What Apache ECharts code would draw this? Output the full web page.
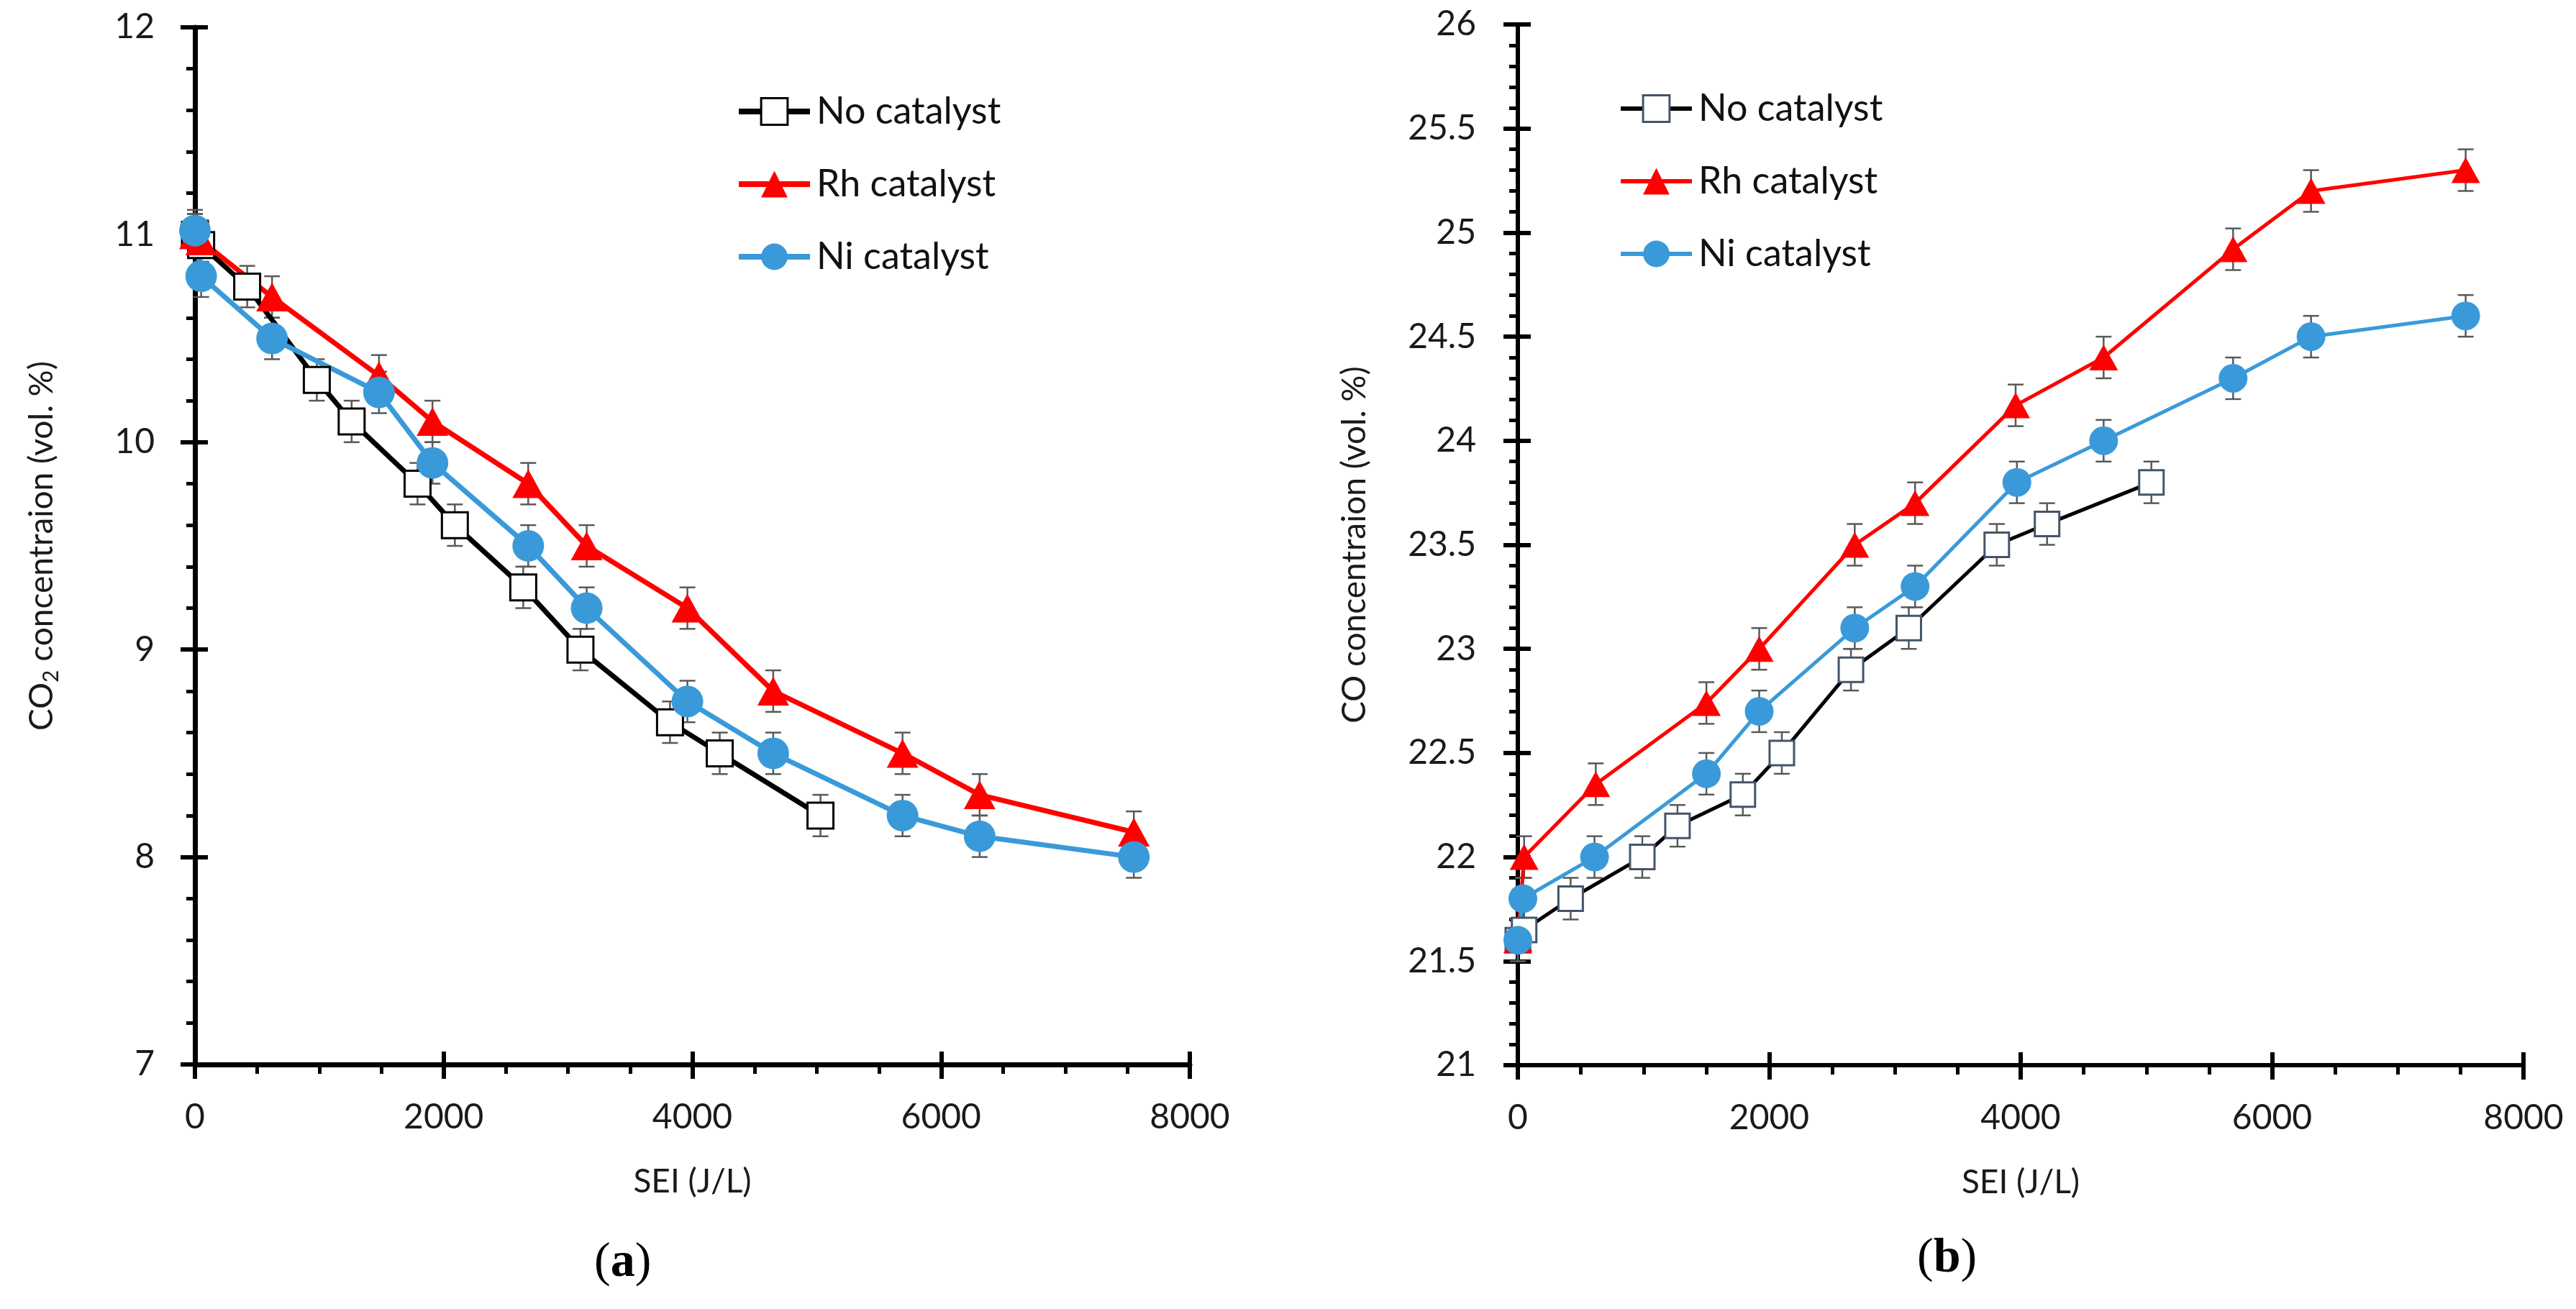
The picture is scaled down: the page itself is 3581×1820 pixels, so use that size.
<!DOCTYPE html>
<html>
<head>
<meta charset="utf-8">
<script src="https://cdn.jsdelivr.net/npm/echarts@6/dist/echarts.min.js"></script>
<style>
html,body{margin:0;padding:0;background:#fff;}
#chart{width:3581px;height:1820px;}
</style>
</head>
<body>
<div id="chart"></div>
<script>
// ---------- Data ----------
// (a) CO2 concentration vs SEI
const SEI_A_NONE = [0, 50, 420, 980, 1260, 1790, 2090, 2640, 3100, 3820, 4220, 5030];
const CO2_NONE   = [11.0, 10.95, 10.75, 10.3, 10.1, 9.8, 9.6, 9.3, 9.0, 8.65, 8.5, 8.2];
const SEI_A_RH   = [0, 50, 620, 1480, 1910, 2680, 3150, 3960, 4650, 5690, 6310, 7550];
const CO2_RH     = [11.0, 10.97, 10.7, 10.32, 10.1, 9.8, 9.5, 9.2, 8.8, 8.5, 8.3, 8.12];
const SEI_A_NI   = [0, 50, 620, 1480, 1910, 2680, 3150, 3960, 4650, 5690, 6310, 7550];
const CO2_NI     = [11.02, 10.8, 10.5, 10.24, 9.9, 9.5, 9.2, 8.75, 8.5, 8.2, 8.1, 8.0];
const ERR_A = 0.1;

// (b) CO concentration vs SEI
const SEI_B_NONE = [0, 50, 420, 990, 1270, 1790, 2100, 2650, 3110, 3810, 4210, 5040];
const CO_NONE    = [21.6, 21.65, 21.8, 22.0, 22.15, 22.3, 22.5, 22.9, 23.1, 23.5, 23.6, 23.8];
const SEI_B_RH   = [0, 50, 620, 1500, 1920, 2680, 3160, 3960, 4660, 5690, 6310, 7540];
const CO_RH      = [21.6, 22.0, 22.35, 22.74, 23.0, 23.5, 23.7, 24.17, 24.4, 24.92, 25.2, 25.3];
const SEI_B_NI   = [0, 40, 610, 1500, 1920, 2680, 3160, 3970, 4660, 5690, 6310, 7540];
const CO_NI      = [21.6, 21.8, 22.0, 22.4, 22.7, 23.1, 23.3, 23.8, 24.0, 24.3, 24.5, 24.6];
const ERR_B = 0.1;

const SERIES_NAMES = ['No catalyst', 'Rh catalyst', 'Ni catalyst'];
const X_MIN = 0, X_MAX = 8000, X_STEP = 2000;
const YA_MIN = 7, YA_MAX = 12, YA_STEP = 1;
const YB_MIN = 21, YB_MAX = 26, YB_STEP = 0.5;
const X_TITLE = 'SEI (J/L)';

// ---------- Helpers ----------
const FONT = 'Lato';
const BLACK = '#000000', RED = '#FF0000', BLUE = '#3A9AD9', SLATE = '#44546A', ERRC = '#595959';

function zip(xs, ys) { return xs.map((x, i) => [x, ys[i]]); }
function errData(xs, ys, e) { return xs.map((x, i) => [x, ys[i] - e, ys[i] + e]); }
function plain(v) { return String(v); }

function errorSeries(xs, ys, e, xi, yi) {
  return {
    type: 'custom', xAxisIndex: xi, yAxisIndex: yi, z: 1, silent: true,
    data: errData(xs, ys, e),
    encode: { x: 0, y: [1, 2] },
    renderItem: function (params, api) {
      const x = api.value(0);
      const lo = api.coord([x, api.value(1)]);
      const hi = api.coord([x, api.value(2)]);
      const w = 11;
      const st = { stroke: ERRC, lineWidth: 2.5 };
      return { type: 'group', children: [
        { type: 'line', shape: { x1: lo[0], y1: lo[1], x2: hi[0], y2: hi[1] }, style: st },
        { type: 'line', shape: { x1: lo[0] - w, y1: lo[1], x2: lo[0] + w, y2: lo[1] }, style: st },
        { type: 'line', shape: { x1: hi[0] - w, y1: hi[1], x2: hi[0] + w, y2: hi[1] }, style: st }
      ]};
    }
  };
}

function lineSeries(name, xs, ys, xi, yi, kind, sqBorder, lw, big) {
  const s = { name: name, type: 'line', xAxisIndex: xi, yAxisIndex: yi, data: zip(xs, ys), z: 3, showSymbol: true };
  if (kind === 'none') {
    s.symbol = 'rect'; s.symbolSize = big ? 36 : 34;
    s.itemStyle = { color: '#ffffff', borderColor: sqBorder, borderWidth: 3 };
    s.lineStyle = { color: BLACK, width: lw };
  } else if (kind === 'rh') {
    s.symbol = 'triangle'; s.symbolSize = big ? [44, 40] : [40, 36];
    s.itemStyle = { color: RED };
    s.lineStyle = { color: RED, width: lw };
  } else {
    s.symbol = 'circle'; s.symbolSize = big ? 44 : 40;
    s.itemStyle = { color: BLUE };
    s.lineStyle = { color: BLUE, width: lw };
  }
  return s;
}

function mainX(gi, lw) {
  return {
    type: 'value', gridIndex: gi, position: 'bottom', min: X_MIN, max: X_MAX, interval: X_STEP,
    axisLine: { show: true, onZero: false, lineStyle: { color: BLACK, width: lw } },
    axisTick: { show: true, inside: false, length: 20, lineStyle: { color: BLACK, width: 6 } },
    minorTick: { show: true, splitNumber: 4, length: 13, lineStyle: { color: BLACK, width: 5 } },
    splitLine: { show: false }, minorSplitLine: { show: false },
    axisLabel: { show: true, margin: 50, fontFamily: FONT, fontSize: 48, color: '#1a1a1a', formatter: plain },
    name: X_TITLE, nameLocation: 'middle', nameGap: 140,
    nameTextStyle: { fontFamily: FONT, fontSize: 46, color: '#1a1a1a' }
  };
}
function overX(gi) {
  return {
    type: 'value', gridIndex: gi, position: 'bottom', min: X_MIN, max: X_MAX, interval: X_STEP,
    axisLine: { show: false, onZero: false },
    axisTick: { show: true, inside: true, length: 18, lineStyle: { color: BLACK, width: 6 } },
    splitLine: { show: false }, axisLabel: { show: false }
  };
}
function mainY(gi, min, max, step, minorN, lw, name, gap, margin) {
  return {
    type: 'value', gridIndex: gi, position: 'left', min: min, max: max, interval: step,
    axisLine: { show: true, onZero: false, lineStyle: { color: BLACK, width: lw } },
    axisTick: { show: true, inside: false, length: 20, lineStyle: { color: BLACK, width: 6 } },
    minorTick: { show: true, splitNumber: minorN, length: 12, lineStyle: { color: BLACK, width: 5 } },
    splitLine: { show: false }, minorSplitLine: { show: false },
    axisLabel: { show: true, margin: margin, fontFamily: FONT, fontSize: 48, color: '#1a1a1a', formatter: plain },
    name: name, nameLocation: 'middle', nameGap: gap, nameRotate: 90,
    nameTextStyle: {
      fontFamily: FONT, fontSize: 46, color: '#1a1a1a', lineHeight: 56,
      rich: { sub: { fontFamily: FONT, fontSize: 30, color: '#1a1a1a', verticalAlign: 'bottom', lineHeight: 36 } }
    }
  };
}
function overY(gi, min, max, step) {
  return {
    type: 'value', gridIndex: gi, position: 'left', min: min, max: max, interval: step,
    axisLine: { show: false, onZero: false },
    axisTick: { show: true, inside: true, length: 18, lineStyle: { color: BLACK, width: 6 } },
    splitLine: { show: false }, axisLabel: { show: false }
  };
}
function legendCfg(left, top, sqBorder, lw) {
  return {
    left: left, top: top, orient: 'vertical', itemWidth: 99, itemHeight: 46, itemGap: 49,
    selectedMode: false,
    textStyle: { fontFamily: FONT, fontSize: 52, color: '#111', lineHeight: 52, padding: [0, 0, 0, 4] },
    data: [
      { name: SERIES_NAMES[0], itemStyle: { color: '#ffffff', borderColor: sqBorder, borderWidth: 3 }, lineStyle: { color: BLACK, width: lw } },
      { name: SERIES_NAMES[1], lineStyle: { color: RED, width: lw } },
      { name: SERIES_NAMES[2], lineStyle: { color: BLUE, width: lw } }
    ]
  };
}

const chart = echarts.init(document.getElementById('chart'), null, { renderer: 'canvas' });
chart.setOption({
  animation: false,
  backgroundColor: '#ffffff',
  grid: [
    { left: 271, top: 38, width: 1383, height: 1442 },
    { left: 2110, top: 34, width: 1398, height: 1447 }
  ],
  xAxis: [ mainX(0, 7), overX(0), mainX(1, 6), overX(1) ],
  yAxis: [
    mainY(0, YA_MIN, YA_MAX, YA_STEP, 5, 7, 'CO{sub|2} concentraion (vol. %)', 185, 56),
    overY(0, YA_MIN, YA_MAX, YA_STEP),
    mainY(1, YB_MIN, YB_MAX, YB_STEP, 5, 6, 'CO concentraion (vol. %)', 199, 58),
    overY(1, YB_MIN, YB_MAX, YB_STEP)
  ],
  legend: [ legendCfg(1018, 124, BLACK, 8), legendCfg(2245, 120, SLATE, 6) ],
  series: [
    errorSeries(SEI_A_NONE, CO2_NONE, ERR_A, 0, 0),
    errorSeries(SEI_A_RH, CO2_RH, ERR_A, 0, 0),
    errorSeries(SEI_A_NI, CO2_NI, ERR_A, 0, 0),
    lineSeries(SERIES_NAMES[0], SEI_A_NONE, CO2_NONE, 0, 0, 'none', BLACK, 7, true),
    lineSeries(SERIES_NAMES[1], SEI_A_RH, CO2_RH, 0, 0, 'rh', null, 7, true),
    lineSeries(SERIES_NAMES[2], SEI_A_NI, CO2_NI, 0, 0, 'ni', null, 7, true),
    errorSeries(SEI_B_NONE, CO_NONE, ERR_B, 2, 2),
    errorSeries(SEI_B_RH, CO_RH, ERR_B, 2, 2),
    errorSeries(SEI_B_NI, CO_NI, ERR_B, 2, 2),
    lineSeries(SERIES_NAMES[0], SEI_B_NONE, CO_NONE, 2, 2, 'none', SLATE, 5, false),
    lineSeries(SERIES_NAMES[1], SEI_B_RH, CO_RH, 2, 2, 'rh', null, 5, false),
    lineSeries(SERIES_NAMES[2], SEI_B_NI, CO_NI, 2, 2, 'ni', null, 5, false)
  ],
  graphic: [
    { type: 'text', left: 871 - 45, top: 1722, style: { text: '({b|a})', fontFamily: 'Liberation Serif', fontSize: 68, fill: '#000',
      rich: { b: { fontFamily: 'Liberation Serif', fontSize: 68, fontWeight: 'bold', fill: '#000' } } } },
    { type: 'text', left: 2712 - 47, top: 1716, style: { text: '({b|b})', fontFamily: 'Liberation Serif', fontSize: 68, fill: '#000',
      rich: { b: { fontFamily: 'Liberation Serif', fontSize: 68, fontWeight: 'bold', fill: '#000' } } } }
  ]
});
</script>
</body>
</html>
